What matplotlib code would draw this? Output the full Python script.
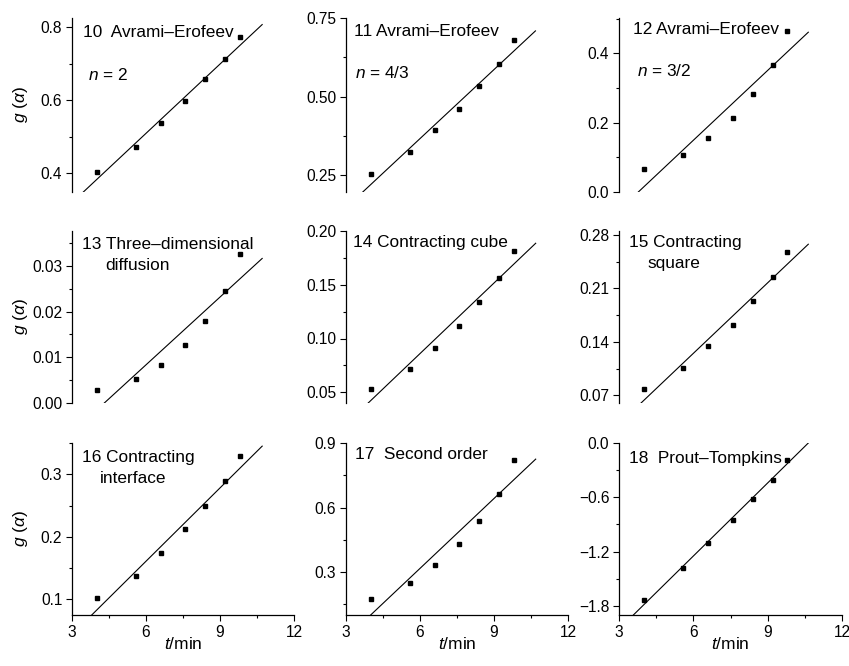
import matplotlib
matplotlib.use("Agg")
import matplotlib.pyplot as plt
from matplotlib.ticker import MultipleLocator

plt.rcParams['font.family'] = ['Liberation Sans', 'DejaVu Sans']
plt.rcParams['mathtext.fontset'] = 'custom'
plt.rcParams['mathtext.it'] = 'Liberation Sans:italic'
plt.rcParams['mathtext.rm'] = 'Liberation Sans'

t_min = [4.0, 5.6, 6.6, 7.6, 8.4, 9.2, 9.8]

g10 = [0.404, 0.472, 0.536, 0.597, 0.657, 0.713, 0.772]
g11 = [0.255, 0.324, 0.393, 0.461, 0.533, 0.604, 0.679]
g12 = [0.065, 0.106, 0.155, 0.214, 0.284, 0.366, 0.464]
g13 = [0.0028, 0.0052, 0.0084, 0.0126, 0.0179, 0.0245, 0.0326]
g14 = [0.0528, 0.0719, 0.0913, 0.1117, 0.1338, 0.1565, 0.181]
g15 = [0.0785, 0.1057, 0.134, 0.1625, 0.1937, 0.225, 0.2571]
g16 = [0.1027, 0.1373, 0.1744, 0.2123, 0.25, 0.2897, 0.330]
g17 = [0.176, 0.249, 0.333, 0.429, 0.535, 0.665, 0.82]
g18 = [-1.737, -1.385, -1.104, -0.85, -0.618, -0.408, -0.19]

# fitted lines: (x start, y start, x end, y end)
fit10 = [3.46, 0.348, 10.71, 0.807]
fit11 = [3.68, 0.197, 10.68, 0.709]
fit12 = [3.78, 0.0, 10.64, 0.461]
fit13 = [4.31, 0.0, 10.71, 0.0316]
fit14 = [3.90, 0.04, 10.69, 0.1886]
fit15 = [3.89, 0.06, 10.64, 0.2677]
fit16 = [3.80, 0.075, 10.71, 0.345]
fit17 = [4.00, 0.10, 10.69, 0.825]
fit18 = [3.58, -1.90, 10.64, 0.0]

titles = [
    ["10  Avrami\u2013Erofeev", "$n$ = 2"],
    ["11 Avrami\u2013Erofeev", "$n$ = 4/3"],
    ["12 Avrami\u2013Erofeev", "$n$ = 3/2"],
    ["13 Three\u2013dimensional", "diffusion"],
    ["14 Contracting cube"],
    ["15 Contracting", "square"],
    ["16 Contracting", "interface"],
    ["17  Second order"],
    ["18  Prout\u2013Tompkins"],
]
x_ticks = [3, 6, 9, 12]

panels = [
    (g10, fit10, (0.348, 0.825), 0.2, [(0.051, 0.918), (0.073, 0.672)], "{:.1f}"),
    (g11, fit11, (0.197, 0.75), 0.25, [(0.036, 0.92), (0.040, 0.682)], "{:.2f}"),
    (g12, fit12, (0.0, 0.502), 0.2, [(0.061, 0.936), (0.082, 0.694)], "{:.1f}"),
    (g13, fit13, (0.0, 0.0376), 0.01, [(0.044, 0.923), (0.149, 0.80)], "{:.2f}"),
    (g14, fit14, (0.04, 0.20), 0.05, [(0.033, 0.932)], "{:.2f}"),
    (g15, fit15, (0.06, 0.285), 0.07, [(0.045, 0.935), (0.127, 0.812)], "{:.2f}"),
    (g16, fit16, (0.075, 0.35), 0.1, [(0.044, 0.917), (0.126, 0.795)], "{:.1f}"),
    (g17, fit17, (0.10, 0.90), 0.3, [(0.041, 0.936)], "{:.1f}"),
    (g18, fit18, (-1.90, 0.0), 0.6, [(0.045, 0.911)], "{:.1f}"),
]

fig = plt.figure(figsize=(8.49, 6.66), dpi=100)
W, H = 849.0, 666.0
col_left = [72, 346, 619]
col_width = [222, 222, 223]
row_top = [18, 231, 443]
row_bottom = [192, 403, 615]

for i, (g, fit, ylim, major, tpos, fmt) in enumerate(panels):
    r, c = divmod(i, 3)
    ax = fig.add_axes([col_left[c] / W, 1 - row_bottom[r] / H,
                       col_width[c] / W, (row_bottom[r] - row_top[r]) / H])
    ax.plot(t_min, g, 's', color='black', markersize=3.0, clip_on=False)
    ax.plot([fit[0], fit[2]], [fit[1], fit[3]], '-', color='black', lw=0.8)
    ax.set_xlim(3, 12)
    ax.set_ylim(*ylim)
    ax.yaxis.set_major_locator(MultipleLocator(major))
    ax.yaxis.set_minor_locator(MultipleLocator(major / 2))
    ax.yaxis.set_major_formatter(plt.FuncFormatter(
        lambda v, p, f=fmt: f.format(v).replace('-', '\u2212')))
    ax.spines['top'].set_visible(False)
    ax.spines['right'].set_visible(False)
    ax.spines['left'].set_linewidth(0.9)
    ax.spines['bottom'].set_linewidth(0.9)
    ax.tick_params(which='major', direction='out', length=4, width=0.8,
                   labelsize=11.2, pad=3)
    ax.tick_params(which='minor', direction='out', length=2.5, width=0.8)
    if r < 2:
        ax.spines['bottom'].set_visible(False)
        ax.set_xticks([])
        ax.xaxis.set_minor_locator(plt.NullLocator())
    else:
        ax.set_xticks(x_ticks)
        ax.xaxis.set_minor_locator(MultipleLocator(1.5))
        ax.set_xlabel('$t$/min', fontsize=12.5)
        ax.xaxis.set_label_coords(0.5, -0.12)
    if c == 0:
        ax.set_ylabel('$g$ ($\\alpha$)', fontsize=12.5)
        ax.yaxis.set_label_coords(-0.19, 0.5)
    for txt, (tx, ty) in zip(titles[i], tpos):
        ax.text(tx, ty, txt, transform=ax.transAxes, fontsize=12.4,
                ha='left', va='center')

fig.savefig('out.png', dpi=100)
